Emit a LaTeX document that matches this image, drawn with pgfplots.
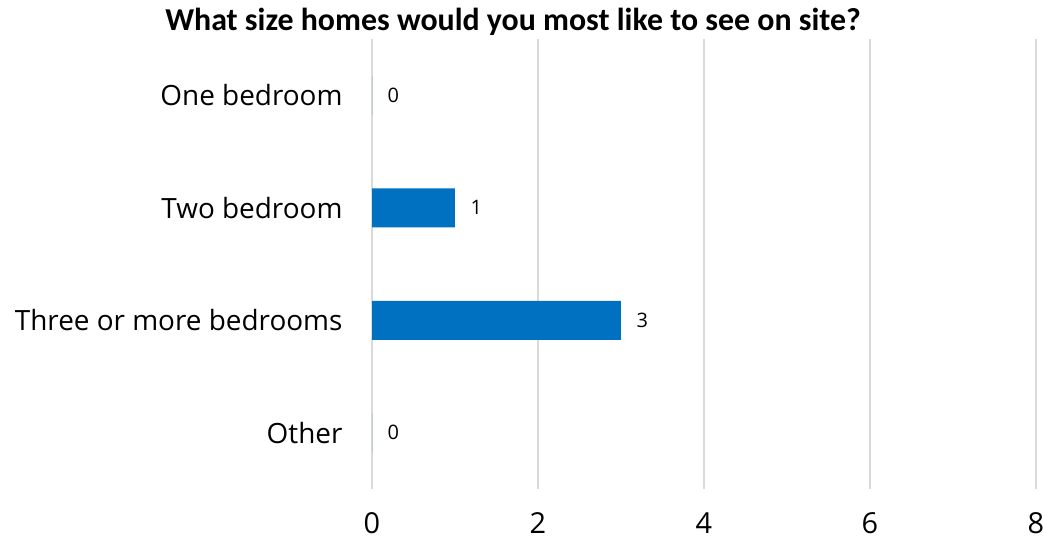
\documentclass[border=0pt]{standalone}
\usepackage{fontspec}
\setmainfont{Open Sans}
\newfontfamily\titlefont{Carlito}
\usepackage{pgfplots}
\pgfplotsset{compat=1.18}
\definecolor{barblue}{HTML}{0070C0}
\definecolor{gridgray}{HTML}{D9D9D9}
\begin{document}
\begin{tikzpicture}
\path[use as bounding box] (0,0) rectangle (1044bp,542bp);
\begin{axis}[
  at={(372bp,53bp)}, anchor=south west,
  scale only axis,
  width=664bp, height=450bp,
  xbar, bar width=39bp,
  xmin=0, xmax=8,
  ymin=-0.5, ymax=3.5,
  y dir=reverse,
  xtick={0,2,4,6,8},
  ytick={0,1,2,3},
  yticklabels={One bedroom, Two bedroom, Three or more bedrooms, Other},
  axis line style={draw=none},
  major tick length=0pt,
  xmajorgrids,
  grid style={gridgray, line width=1.5bp},
  /pgf/number format/assume math mode=true,
  xticklabel style={font=\fontsize{29}{35}\selectfont, yshift=-20bp},
  yticklabel style={font=\fontsize{28}{34}\selectfont, xshift=-26bp},
  nodes near coords,
  every node near coord/.append style={font=\fontsize{20}{24}\selectfont, text=black, xshift=12bp},
  clip=false,
]
\addplot[fill=barblue, draw=none] coordinates {(0,0) (1,1) (3,2) (0,3)};
\end{axis}
\node[font=\titlefont\bfseries\fontsize{32}{38}\selectfont] at (513bp,520bp) {What size homes would you most like to see on site?};
\end{tikzpicture}
\end{document}
